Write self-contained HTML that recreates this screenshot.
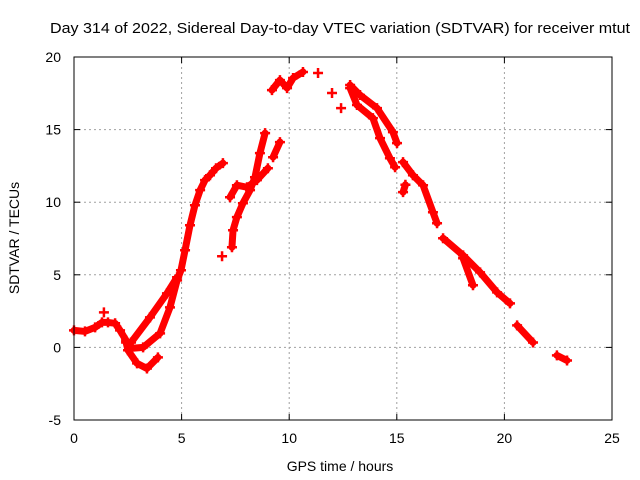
<!DOCTYPE html>
<html><head><meta charset="utf-8"><style>
body{margin:0;background:#fff;}
svg{display:block;font-family:"Liberation Sans",sans-serif;}
</style></head><body>
<svg id="chart" width="640" height="480">
<text x="340" y="33" text-anchor="middle" font-size="15" textLength="580" lengthAdjust="spacingAndGlyphs">Day 314 of 2022, Sidereal Day-to-day VTEC variation (SDTVAR) for receiver mtut</text>
<text x="340" y="471" text-anchor="middle" font-size="14">GPS time / hours</text>
<text transform="translate(19,238) rotate(-90)" text-anchor="middle" font-size="14">SDTVAR / TECUs</text>
<g id="grid"></g><g id="ticks"></g><g id="series"></g>
<rect x="74" y="57" width="538" height="363" fill="none" stroke="#000" stroke-width="1"/>
</svg>
<script>
const xTicks=[0,5,10,15,20,25];
const yTicks=[-5,0,5,10,15,20];
const segments=[
[[0,1.17],[0.51,1.1],[0.98,1.38],[1.3,1.72],[1.58,1.72],[1.91,1.66],[2.14,1.17],[2.42,0.48],[2.65,-0.07]],
[[1.39,2.41]],
[[2.65,-0.07],[3.21,0],[4.0,0.97],[4.46,2.76],[4.79,4.62],[4.97,5.31],[5.16,6.69],[5.39,8.41],[5.62,9.79],[5.86,10.83],[6.09,11.52],[6.32,11.86],[6.6,12.34],[6.92,12.69]],
[[2.65,0.34],[3.53,2.07],[4.32,3.72],[4.79,4.83]],
[[2.42,0.34],[2.51,-0.2],[2.93,-1.1],[3.39,-1.45],[3.9,-0.69]],
[[6.88,6.28]],
[[7.34,6.9],[7.39,8.07],[7.57,8.97],[7.85,9.93],[8.18,10.83],[8.41,11.72],[8.64,13.38],[8.88,14.76]],
[[7.25,10.34],[7.57,11.17],[8.04,11.03],[8.5,11.52],[9.01,12.34]],
[[9.25,13.1],[9.57,14.14]],
[[9.2,17.72],[9.57,18.41],[9.9,17.86],[10.18,18.55],[10.64,18.97]],
[[11.34,18.9]],
[[11.99,17.52]],
[[12.41,16.48]],
[[12.83,18.07],[13.29,17.38],[14.08,16.48],[14.82,14.83],[15.01,14.07]],
[[12.83,17.86],[13.15,16.69],[13.89,15.79],[14.22,14.41],[14.68,13.03],[14.92,12.41]],
[[15.29,12.76],[15.75,11.86],[16.22,11.17],[16.68,9.31],[16.87,8.55]],
[[15.29,10.69],[15.4,11.2]],
[[17.15,7.52],[18.08,6.34],[18.87,5.17],[19.66,3.79],[20.26,3.03]],
[[18.08,6.14],[18.54,4.28]],
[[20.59,1.52],[21.33,0.34]],
[[22.44,-0.55],[22.91,-0.9]]
];
const X0=74,X1=612,Y0=420,Y1=57;
const sx=v=>X0+(v-0)/(25-0)*(X1-X0);
const sy=v=>Y0-(v+5)/(20+5)*(Y0-Y1);
const NS="http://www.w3.org/2000/svg";
const grid=document.getElementById('grid'),ticks=document.getElementById('ticks'),ser=document.getElementById('series');
function mk(tag,attrs,parent){const e=document.createElementNS(NS,tag);for(const k in attrs)e.setAttribute(k,attrs[k]);parent.appendChild(e);return e;}
xTicks.forEach(t=>{
 const x=sx(t);
 if(t>0&&t<25){const g=mk('line',{x1:x,x2:x,y1:Y1,y2:Y0,stroke:'#a0a0a0','stroke-dasharray':'2,3'},grid);
 
 }
 mk('line',{x1:x,x2:x,y1:Y0,y2:Y0-6,stroke:'#000'},ticks);
 mk('line',{x1:x,x2:x,y1:Y1,y2:Y1+6,stroke:'#000'},ticks);
 const l=mk('text',{x:x,y:443,'text-anchor':'middle','font-size':14},ticks);l.textContent=t;
 
 
});
yTicks.forEach(t=>{
 const y=sy(t);
 if(t>-5&&t<20){const g=mk('line',{x1:X0,x2:X1,y1:y,y2:y,stroke:'#a0a0a0','stroke-dasharray':'2,3'},grid);
 
 }
 mk('line',{x1:X0,x2:X0+6,y1:y,y2:y,stroke:'#000'},ticks);
 mk('line',{x1:X1,x2:X1-6,y1:y,y2:y,stroke:'#000'},ticks);
 const l=mk('text',{x:61,y:y+5,'text-anchor':'end','font-size':14},ticks);l.textContent=t;
 
 
});
segments.forEach(seg=>{
 const pts=seg.map(p=>sx(p[0])+','+sy(p[1])).join(' ');
 if(seg.length>1){const pl=mk('polyline',{points:pts,fill:'none',stroke:'#f00','stroke-width':7,'stroke-linejoin':'round','stroke-linecap':'round'},ser);
 
 }
 seg.forEach(p=>{const x=sx(p[0]),y=sy(p[1]);
 const m=mk('path',{d:`M${x-5},${y}h10M${x},${y-5}v10`,stroke:'#f00','stroke-width':2.5},ser);
 
 });
});
</script>
</body></html>
